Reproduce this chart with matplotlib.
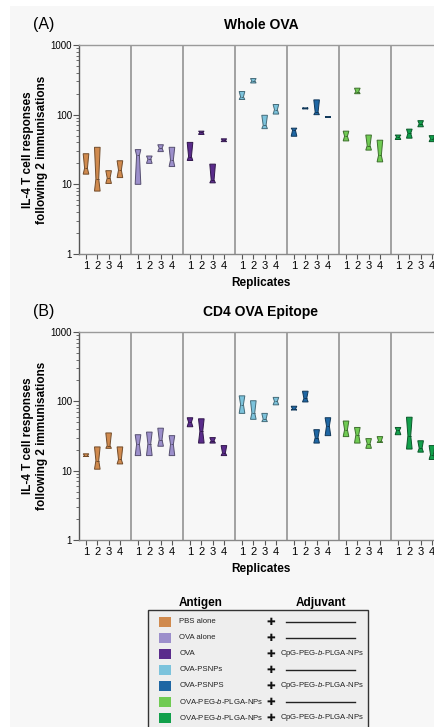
import numpy as np
import matplotlib
matplotlib.use('Agg')
import matplotlib.pyplot as plt
import matplotlib.colors as mcolors
from matplotlib.patches import Rectangle
from matplotlib.ticker import LogLocator, NullFormatter

plt.rcParams['font.family'] = ['Liberation Sans', 'DejaVu Sans']
plt.rcParams['mathtext.fontset'] = 'custom'
plt.rcParams['mathtext.rm'] = 'Liberation Sans'
plt.rcParams['mathtext.it'] = 'Liberation Sans:italic'

# groups (antigen + adjuvant) and their colours
antigens = ['PBS alone', 'OVA alone', 'OVA', 'OVA-PSNPs', 'OVA-PSNPS',
            'OVA-PEG-$\\it{b}$-PLGA-NPs', 'OVA-PEG-$\\it{b}$-PLGA-NPs']
adjuvants = ['', '', 'CpG-PEG-$\\it{b}$-PLGA-NPs', '', 'CpG-PEG-$\\it{b}$-PLGA-NPs',
             '', 'CpG-PEG-$\\it{b}$-PLGA-NPs']
colors = ['#d08a4e', '#9c8fcb', '#5a2b8b', '#7cc3dc', '#1e66a3', '#70cb53', '#12a04b']
replicates = ['1', '2', '3', '4']

# Whole OVA: bottom / median / top of each notched box, 4 replicates per group
whole_lo = [14, 8.0, 10.3, 12.5,   10, 20, 29.5, 18,   22, 52, 10.5, 41,
            165, 285, 63, 102,     49, 121, 100, 91,   42, 200, 31, 21,
            44, 46, 67, 41]
whole_med = [17, 12, 12.3, 16,     26, 23, 33, 22.3,   25, 56, 11.5, 43,
             180, 305, 70, 118,    60, 123, 108, 92,   49, 215, 36, 26,
             48, 54, 74, 45]
whole_hi = [27.5, 34, 15.7, 21.8,  31.5, 25.5, 37, 34,  40, 58, 19.5, 45,
            215, 330, 98, 140,     64, 125, 163, 94,   58, 240, 51, 43,
            51, 62, 82, 50]

# CD4 OVA epitope
epi_lo = [16, 10.5, 21, 12.5,     16.5, 16.5, 22.5, 16.5,  43, 25, 25, 16.5,
          67, 55, 51, 89,         75, 98, 25, 32,          31, 25, 21, 25.5,
          33, 20.5, 18.5, 14.5]
epi_med = [16.5, 14, 23, 14.5,    24, 24.5, 28, 24,        50, 37, 27, 18,
           90, 68, 55, 100,       77, 110, 30, 44,         39, 33, 24.5, 27,
           38, 32, 21, 17]
epi_hi = [17.5, 22, 35, 22,       33, 36, 41, 32,          58, 56, 30, 23,
          120, 102, 67, 114,      85, 140, 39, 58,         52, 42, 29, 31,
          42, 59, 27, 23]

W, H = 435, 727
gw = 4.6  # width of one group in x units

fig = plt.figure(figsize=(W / 100, H / 100), dpi=100)
fig.patch.set_facecolor('white')
fig.patches.append(Rectangle((10 / W, 0), 1, 1 - 6 / H, transform=fig.transFigure,
                             facecolor='#f7f7f7', edgecolor='none', zorder=-5))


def darker(c, f=0.55):
    r, g, b = mcolors.to_rgb(c)
    return (r * f, g * f, b * f)


def draw_panel(ax, lo, med, hi):
    for g in range(len(antigens)):
        stats = []
        for r in range(4):
            i = g * 4 + r
            stats.append(dict(med=med[i], q1=lo[i], q3=hi[i], cilo=lo[i], cihi=hi[i],
                              whislo=lo[i], whishi=hi[i], fliers=[]))
        pos = [g * gw + 0.62 + r for r in range(4)]
        dk = darker(colors[g])
        ax.bxp(stats, positions=pos, widths=0.5, shownotches=True, showcaps=False,
               showfliers=False, patch_artist=True, manage_ticks=False,
               boxprops=dict(facecolor=colors[g], edgecolor=dk, linewidth=0.7),
               medianprops=dict(color=dk, linewidth=0.7),
               whiskerprops=dict(color=dk, linewidth=0.7))
    for g in range(1, len(antigens)):
        ax.axvline(g * gw, color='#9a9a9a', lw=1.3, zorder=0)
    ax.set_yscale('log')
    ax.set_ylim(1, 1000)
    ax.set_xlim(0, gw * len(antigens))
    ax.set_yticks([1, 10, 100, 1000])
    ax.set_yticklabels(['1', '10', '100', '1000'])
    ax.yaxis.set_minor_locator(LogLocator(base=10, subs=np.arange(2, 10)))
    ax.yaxis.set_minor_formatter(NullFormatter())
    xt = [g * gw + 0.62 + r for g in range(len(antigens)) for r in range(4)]
    ax.set_xticks(xt)
    ax.set_xticklabels(replicates * len(antigens))
    ax.tick_params(axis='x', length=3.5, width=0.8, color='#555', labelsize=8, pad=1.5)
    ax.tick_params(axis='y', which='major', length=4, width=0.8, color='#555', labelsize=7, pad=1)
    ax.tick_params(axis='y', which='minor', length=2.5, width=0.6, color='#555')
    ax.set_facecolor('none')
    ax.spines['left'].set_color('#555')
    ax.spines['bottom'].set_color('#888')
    ax.spines['top'].set_color('#9a9a9a')
    ax.spines['right'].set_visible(False)
    for s in ax.spines.values():
        s.set_linewidth(1.0)


axA = fig.add_axes([79 / W, 1 - 254 / H, 364 / W, 209 / H])
draw_panel(axA, whole_lo, whole_med, whole_hi)
axB = fig.add_axes([79 / W, 1 - 540 / H, 364 / W, 208 / H])
draw_panel(axB, epi_lo, epi_med, epi_hi)

ylab = 'IL-4 T cell responses\nfollowing 2 immunisations'
for letter, title, top, bot, rep_y in [('(A)', 'Whole OVA', 45, 254, 283),
                                       ('(B)', 'CD4 OVA Epitope', 331.7, 540, 569)]:
    fig.text(33 / W, 1 - (top - 20) / H, letter, fontsize=11.5, ha='left', va='center')
    fig.text(261 / W, 1 - (top - 20) / H, title, fontsize=10, fontweight='bold',
             ha='center', va='center')
    fig.text(35 / W, 1 - (top + bot) / 2 / H, ylab, rotation=90, fontsize=8.5,
             fontweight='bold', ha='center', va='center', multialignment='center')
    fig.text(261 / W, 1 - rep_y / H, 'Replicates', fontsize=8.5, fontweight='bold',
             ha='center', va='center')

# legend table drawn in pixel coordinates
leg = fig.add_axes([0, 0, 1, 1])
leg.set_xlim(0, W)
leg.set_ylim(H, 0)
leg.axis('off')
leg.set_facecolor('none')
leg.add_patch(Rectangle((148, 610), 220, 130, facecolor='#eeeeee', edgecolor='#333333', lw=1))
leg.text(200.7, 603, 'Antigen', fontsize=8.5, fontweight='bold', ha='center', va='center')
leg.text(320.7, 603, 'Adjuvant', fontsize=8.5, fontweight='bold', ha='center', va='center')
for k in range(len(antigens)):
    y = 621.7 + 16 * k
    leg.add_patch(Rectangle((159.3, y - 5), 12, 10, facecolor=colors[k], edgecolor='none'))
    leg.text(179.3, y, antigens[k], fontsize=5.6, color='#222', ha='left', va='center')
    leg.text(271, y, '\u271a', fontsize=7.5, family='DejaVu Sans', ha='center', va='center',
             color='#111')
    if adjuvants[k]:
        leg.text(280, y, adjuvants[k], fontsize=5.6, color='#222', ha='left', va='center')
    else:
        leg.plot([285.7, 355], [y, y], color='#222', lw=1)

fig.savefig('out.png', dpi=100)
